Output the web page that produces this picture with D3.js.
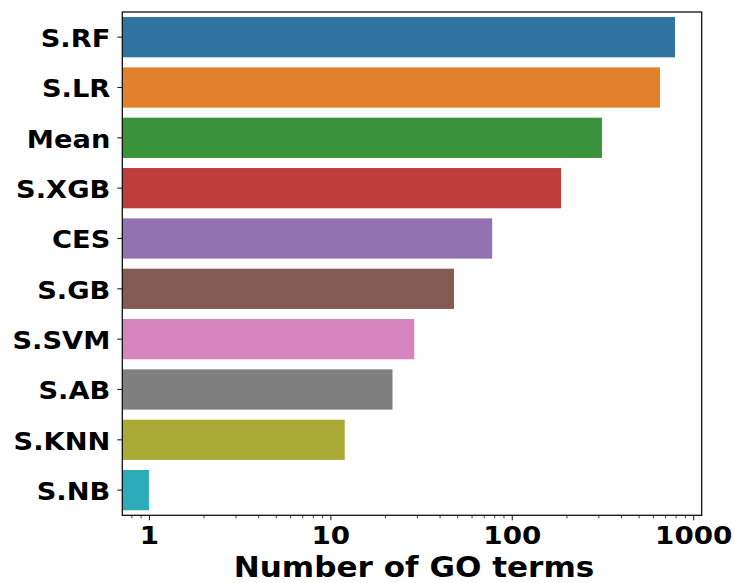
<!DOCTYPE html>
<html>
<head>
<meta charset="utf-8">
<script src="https://cdn.jsdelivr.net/npm/d3@7"></script>
<style>
  html, body { margin: 0; padding: 0; background: #fff; }
  svg { display: block; }
  text { font-family: "DejaVu Sans", sans-serif; font-weight: bold; fill: #000; }
</style>
</head>
<body>
<svg id="chart" width="735" height="583"></svg>
<script>
// Number of GO terms found by each method
const categories = ["S.RF", "S.LR", "Mean", "S.XGB", "CES", "S.GB", "S.SVM", "S.AB", "S.KNN", "S.NB"];
const counts = [794, 656, 314, 187, 78, 48, 29, 22, 12, 1];
const barColors = ["#3274a1", "#e1812c", "#3a923a", "#c03d3e", "#9372b2",
                   "#845b53", "#d684bd", "#7f7f7f", "#a9aa35", "#2eabb8"];
const xTickValues = [1, 10, 100, 1000];
const xDomain = [0.713, 1114];
const xLabel = "Number of GO terms";

const W = 735, H = 583;
const margin = { top: 12, right: 33.3, bottom: 67.7, left: 122.3 };
const iw = W - margin.left - margin.right;
const ih = H - margin.top - margin.bottom;
const stretch = 1.11;   // glyphs are drawn slightly wide
const yStretch = 1.07;

const svg = d3.select("#chart");
const g = svg.append("g").attr("transform", `translate(${margin.left},${margin.top})`);

const x = d3.scaleLog().domain(xDomain).range([0, iw]);
const y = d3.scaleBand().domain(categories).range([0, ih]).paddingInner(0.2).paddingOuter(0.1);

// bars start at the left edge (zero is off the log axis)
g.selectAll("rect.bar")
  .data(categories)
  .join("rect")
  .attr("class", "bar")
  .attr("x", 0)
  .attr("y", d => y(d))
  .attr("width", (d, i) => x(counts[i]))
  .attr("height", y.bandwidth())
  .attr("fill", (d, i) => barColors[i]);

// minor ticks on the log axis
const minorTicks = [];
for (let e = -1; e <= 3; e++) {
  for (let m = 2; m <= 9; m++) {
    const v = m * Math.pow(10, e);
    if (v >= xDomain[0] && v <= xDomain[1]) minorTicks.push(v);
  }
}
const xMinor = g.append("g").attr("transform", `translate(0,${ih})`)
  .call(d3.axisBottom(x).tickValues(minorTicks).tickSize(3).tickFormat(""));
xMinor.select(".domain").remove();
xMinor.selectAll("line").attr("stroke", "#222").attr("stroke-width", 0.9);

const xAxis = g.append("g").attr("transform", `translate(0,${ih})`)
  .call(d3.axisBottom(x).tickValues(xTickValues).tickSize(5).tickFormat(d3.format("d")));
xAxis.select(".domain").remove();
xAxis.selectAll("line").attr("stroke", "#222").attr("stroke-width", 1.1);
xAxis.selectAll("text")
  .style("font-size", "25px")
  .attr("y", 28.7).attr("dy", null)
  .attr("transform", `scale(${stretch},1)`);

const yAxis = g.append("g")
  .call(d3.axisLeft(y).tickSize(5).tickPadding(7));
yAxis.select(".domain").remove();
yAxis.selectAll("line").attr("stroke", "#222").attr("stroke-width", 1.1);
yAxis.selectAll("text")
  .style("font-size", "25.5px")
  .attr("dy", "10px")
  .attr("x", function () { return +d3.select(this).attr("x") / yStretch; })
  .attr("transform", `scale(${yStretch},1)`);

// frame
g.append("rect")
  .attr("x", 0).attr("y", 0).attr("width", iw).attr("height", ih)
  .attr("fill", "none").attr("stroke", "#111").attr("stroke-width", 1.3);

// axis title
svg.append("g")
  .attr("transform", `translate(${margin.left + iw / 2 + 2},577) scale(${stretch},1)`)
  .append("text")
  .attr("text-anchor", "middle")
  .style("font-size", "28px")
  .text(xLabel);
</script>
</body>
</html>
